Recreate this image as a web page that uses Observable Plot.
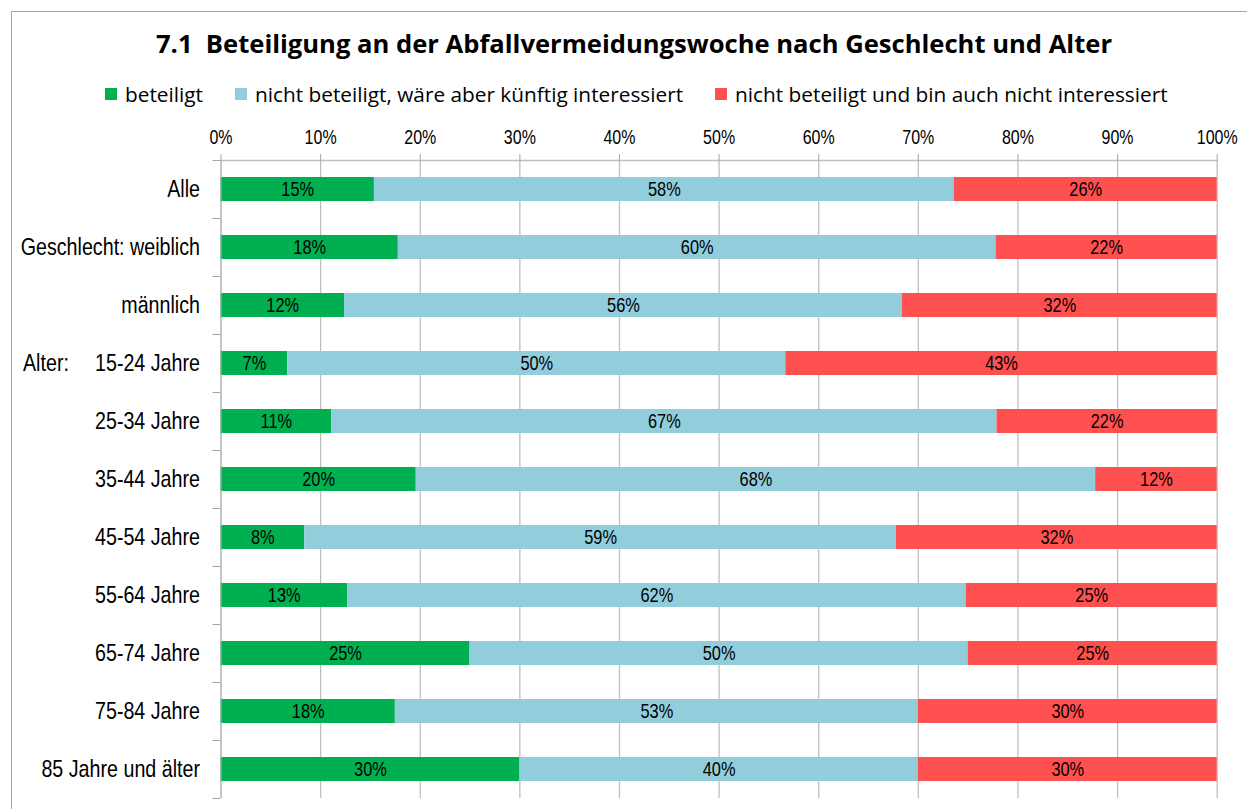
<!DOCTYPE html>
<html><head><meta charset="utf-8">
<script src="https://cdn.jsdelivr.net/npm/d3@7"></script>
<script src="https://cdn.jsdelivr.net/npm/@observablehq/plot@0.6"></script>
<style>
body{margin:0;background:#fff;}
#wrap{position:relative;width:1247px;height:809px;overflow:hidden;background:#fff;}
#frame{position:absolute;left:11px;top:11px;width:1300px;height:900px;border:1.5px solid #a6a6a6;box-sizing:border-box;}
#title{position:absolute;left:0;width:1268px;top:26px;text-align:center;font-family:'Open Sans',sans-serif;font-weight:700;font-size:25.6px;line-height:36px;color:#000;white-space:pre;}
#legend{position:absolute;left:105px;top:80px;display:flex;align-items:center;gap:32px;font-family:'Open Sans',sans-serif;font-size:20.8px;line-height:28px;color:#000;}
#legend .item{display:flex;align-items:center;gap:8px;white-space:nowrap;}
#legend .sw{width:12px;height:12px;display:inline-block;}
#chart{position:absolute;left:0;top:112px;}
</style></head>
<body><div id="wrap"><div id="frame"></div><div id="title"></div><div id="legend"></div><div id="chart"></div></div>
<script>
const titleText = "7.1  Beteiligung an der Abfallvermeidungswoche nach Geschlecht und Alter";
const categories = ["Alle","Geschlecht: weiblich","männlich","15-24 Jahre","25-34 Jahre","35-44 Jahre","45-54 Jahre","55-64 Jahre","65-74 Jahre","75-84 Jahre","85 Jahre und älter"];
const series = ["beteiligt","nicht beteiligt, wäre aber künftig interessiert","nicht beteiligt und bin auch nicht interessiert"];
const beteiligt = [15.4,17.8,12.4,6.7,11.1,19.6,8.4,12.7,25.0,17.5,30.0];
const kuenftigInteressiert = [58.2,60.0,56.0,50.0,66.8,68.2,59.4,62.1,50.0,52.5,40.0];
const nichtInteressiert = [26.4,22.2,31.6,43.3,22.1,12.2,32.2,25.2,25.0,30.0,30.0];
const colors = ["#00B050","#92CDDC","#FF5050"];
const xTicks = [0,10,20,30,40,50,60,70,80,90,100];
const groupLabels = [{category:"15-24 Jahre", text:"Alter:"}];

const seriesValues = [beteiligt, kuenftigInteressiert, nichtInteressiert];
const data = categories.flatMap((c,i)=>series.map((s,j)=>({category:c, series:s, value:seriesValues[j][i]})));

document.getElementById("title").textContent = titleText;
const legend = document.getElementById("legend");
series.forEach((s,j)=>{
  const it = document.createElement("div"); it.className="item";
  const sw = document.createElement("span"); sw.className="sw"; sw.style.background=colors[j];
  const tx = document.createElement("span"); tx.textContent=s;
  it.appendChild(sw); it.appendChild(tx); legend.appendChild(it);
});

const chart = Plot.plot({
  width:1247, height:697, marginTop:48, marginBottom:11, marginLeft:220.5, marginRight:30.3,
  style:{fontFamily:"'Liberation Sans',Arial,sans-serif", background:"transparent", color:"#000"},
  x:{domain:[0,100]},
  y:{domain:categories, padding:0},
  color:{domain:series, range:colors},
  marks:[
    Plot.ruleX(xTicks.slice(1), {stroke:"#bfbfbf", strokeWidth:1.3}),
    Plot.barX(data, Plot.stackX({x:"value", y:"category", fill:"series", order:series, insetTop:17, insetBottom:17})),
    Plot.text(data, Plot.stackX({x:"value", y:"category", z:"series", order:series, text:d=>Math.round(d.value)+"%", fontSize:20, fill:"#000"})),
    Plot.ruleX([0], {stroke:"#a6a6a6", strokeWidth:1.3}),
    Plot.frame({anchor:"top", stroke:"#bfbfbf", strokeWidth:1.3}),
    Plot.axisX(xTicks, {anchor:"top", tickSize:7, tickPadding:10, tickFormat:d=>d+"%", stroke:"#a6a6a6", fill:"#000", fontSize:19.5, label:null}),
    Plot.axisY({tickSize:0, tickPadding:21, fontSize:24, fill:"#000", label:null}),
    Plot.axisY({tickSize:8, fill:"none", dy:29, stroke:"#a6a6a6", label:null}),
    Plot.axisY([categories[0]], {tickSize:8, fill:"none", dy:-29, stroke:"#a6a6a6", label:null}),
    Plot.text(groupLabels, {y:"category", text:"text", frameAnchor:"left", dx:-198, textAnchor:"start", fontSize:24, fill:"#000"})
  ]
});
// emulate a narrow (condensed) sans face: squeeze each text horizontally about its anchor
const squeeze = 0.82;
chart.querySelectorAll("text").forEach(t=>{
  const xa = t.getAttribute("x");
  const x = xa != null && isFinite(+xa) ? +xa : 0;
  if (xa != null) t.removeAttribute("x");
  const tr = t.getAttribute("transform") || "";
  t.setAttribute("transform", `${tr} translate(${x},0) scale(${squeeze},1)`.trim());
});
document.getElementById("chart").appendChild(chart);
</script></body></html>
